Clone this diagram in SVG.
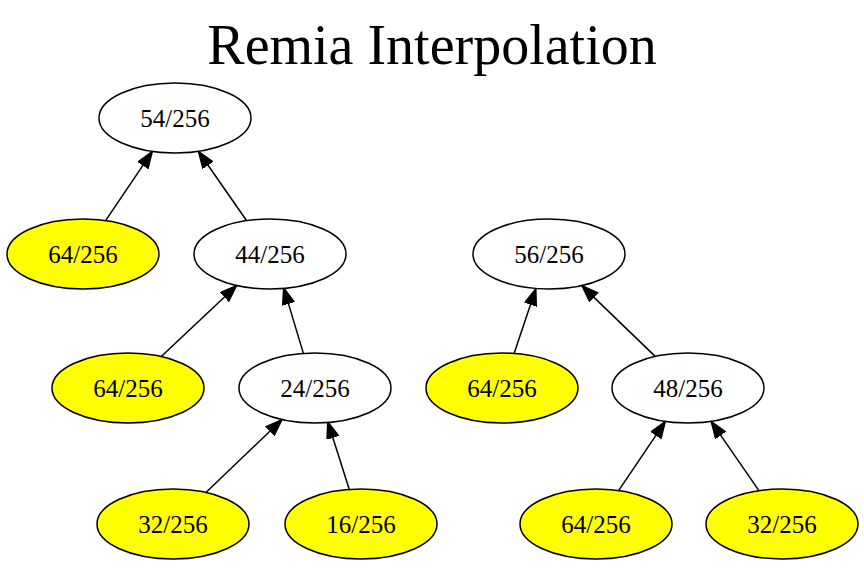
<svg xmlns="http://www.w3.org/2000/svg" width="864" height="568" viewBox="0 0 864 568">
<style>
.n ellipse{fill:#fff;stroke:#000;stroke-width:1.5}
.n.y ellipse{fill:#ffff00}
.n text{font-family:"Liberation Serif",serif;font-size:25px;text-anchor:middle}
.e path{fill:none;stroke:#000;stroke-width:1.5;marker-end:url(#a)}
.t{font-family:"Liberation Serif",serif;font-size:56px;text-anchor:middle}
</style>
<defs>
<marker id="a" markerUnits="userSpaceOnUse" markerWidth="19" markerHeight="14" refX="17" refY="6.5" orient="auto">
<path d="M0.5,0.5 L17,6.5 L0.5,12.5 z" fill="#000" stroke="#000" stroke-width="1.3"/>
</marker>
</defs>
<rect width="864" height="568" fill="#fff"/>
<text class="t" x="432" y="64">Remia Interpolation</text>
<g id="edges" class="e">
<path d="M105.6,220.6 L152.4,151.4"/>
<path d="M246.7,220.7 L198.3,151.3"/>
<path d="M161.3,356.5 L236.7,285.5"/>
<path d="M303.4,353.4 L283.6,287.6"/>
<path d="M205.9,492.5 L282.1,419.5"/>
<path d="M349.3,489.4 L327.7,421.6"/>
<path d="M514.1,353.5 L535.9,288.5"/>
<path d="M655.2,356.4 L581.8,285.6"/>
<path d="M618.6,490.6 L665.4,421.4"/>
<path d="M758.9,490.6 L711.1,421.4"/>
</g>
<g id="n1" class="n"><ellipse cx="175" cy="118" rx="76" ry="35"/><text x="175" y="126.5">54/256</text></g>
<g id="n2" class="n y"><ellipse cx="83" cy="254" rx="76" ry="35"/><text x="83" y="262.5">64/256</text></g>
<g id="n3" class="n"><ellipse cx="270" cy="254" rx="76" ry="35"/><text x="270" y="262.5">44/256</text></g>
<g id="n4" class="n"><ellipse cx="549" cy="254" rx="76" ry="35"/><text x="549" y="262.5">56/256</text></g>
<g id="n5" class="n y"><ellipse cx="128" cy="388" rx="76" ry="35"/><text x="128" y="396.5">64/256</text></g>
<g id="n6" class="n"><ellipse cx="315" cy="388" rx="76" ry="35"/><text x="315" y="396.5">24/256</text></g>
<g id="n7" class="n y"><ellipse cx="502" cy="388" rx="76" ry="35"/><text x="502" y="396.5">64/256</text></g>
<g id="n8" class="n"><ellipse cx="688" cy="388" rx="76" ry="35"/><text x="688" y="396.5">48/256</text></g>
<g id="n9" class="n y"><ellipse cx="173" cy="524" rx="76" ry="35"/><text x="173" y="532.5">32/256</text></g>
<g id="n10" class="n y"><ellipse cx="361" cy="524" rx="76" ry="35"/><text x="361" y="532.5">16/256</text></g>
<g id="n11" class="n y"><ellipse cx="596" cy="524" rx="76" ry="35"/><text x="596" y="532.5">64/256</text></g>
<g id="n12" class="n y"><ellipse cx="782" cy="524" rx="76" ry="35"/><text x="782" y="532.5">32/256</text></g>
</svg>
